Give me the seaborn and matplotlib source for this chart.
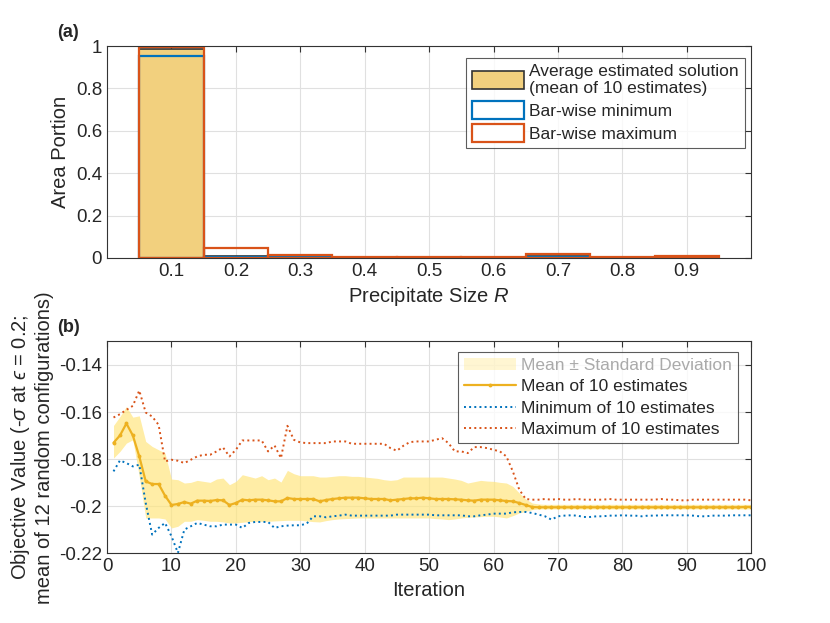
import numpy as np
import pandas as pd
import matplotlib
matplotlib.use('Agg')
import matplotlib.pyplot as plt
import seaborn as sns
from matplotlib.patches import Patch
from matplotlib.lines import Line2D

# ---- dados painel (a) ----
R = [0.1, 0.2, 0.3, 0.4, 0.5, 0.6, 0.7, 0.8, 0.9]
bar_mean = [0.985, 0.008, 0.006, 0.002, 0.001, 0.001, 0.010, 0.001, 0.004]
bar_min = [0.955, 0.004, 0.002, 0.000, 0.000, 0.000, 0.006, 0.000, 0.001]
bar_max = [0.995, 0.047, 0.012, 0.005, 0.003, 0.003, 0.019, 0.003, 0.008]

# ---- dados painel (b) (pixels y lidos no zoom, convertidos abaixo) ----
iters = list(range(1, 101))
mean_px = [519, 497, 461, 497, 560, 635, 643, 643, 678, 706,
           703, 697, 702, 693, 693, 694, 691, 692, 706, 700,
           690, 692, 690, 690, 692, 695, 695, 685, 688, 688,
           688, 688, 695, 691, 688, 686, 684, 684, 684, 686,
           688, 688, 688, 692, 690, 688, 686, 686, 684, 686,
           688, 688, 688, 689, 690, 692, 693, 690, 690, 690,
           692, 694, 695, 700, 706, 712, 713, 713, 713, 713,
           713, 713, 713, 713, 713, 713, 713, 713, 713, 713,
           713, 713, 713, 713, 713, 713, 713, 713, 713, 713,
           713, 713, 713, 713, 713, 713, 713, 713, 712, 712]
upper_px = [467, 440, 410, 442, 438, 515, 530, 540, 550, 628,
            630, 640, 638, 632, 635, 638, 628, 625, 645, 635,
            615, 620, 625, 618, 630, 625, 637, 602, 612, 618,
            618, 618, 622, 622, 620, 618, 618, 620, 620, 622,
            624, 626, 630, 632, 630, 622, 622, 622, 622, 622,
            622, 622, 625, 628, 632, 640, 636, 632, 634, 635,
            638, 640, 650, 670, 688, 700, 703, 704, 704, 704,
            704, 704, 704, 704, 704, 704, 704, 704, 704, 704,
            704, 704, 704, 704, 704, 704, 704, 704, 704, 704,
            704, 704, 704, 704, 704, 704, 704, 704, 704, 704]
lower_px = [565, 545, 520, 510, 620, 745, 745, 745, 748, 775,
            770, 755, 755, 750, 752, 755, 755, 757, 760, 760,
            758, 756, 755, 755, 755, 754, 753, 752, 752, 752,
            754, 756, 757, 753, 750, 748, 747, 746, 745, 745,
            745, 745, 745, 745, 745, 745, 745, 745, 745, 745,
            747, 748, 750, 748, 745, 743, 742, 741, 740, 740,
            742, 745, 738, 730, 725, 720, 718, 718, 718, 718,
            718, 718, 718, 718, 718, 718, 718, 718, 718, 718,
            718, 718, 718, 718, 718, 718, 718, 718, 718, 718,
            718, 718, 718, 718, 718, 718, 718, 718, 718, 718]
max_px = [443, 433, 420, 408, 362, 428, 440, 465, 575, 570,
          573, 580, 570, 560, 555, 555, 545, 533, 560, 540,
          512, 512, 512, 512, 545, 527, 565, 468, 510, 518,
          520, 520, 520, 520, 515, 515, 515, 522, 522, 522,
          522, 522, 522, 535, 543, 528, 517, 515, 515, 515,
          510, 505, 520, 545, 545, 550, 532, 532, 535, 540,
          545, 560, 605, 660, 688, 690, 690, 688, 690, 688,
          690, 690, 688, 690, 690, 690, 690, 688, 690, 690,
          690, 690, 690, 690, 690, 688, 690, 690, 692, 692,
          690, 690, 690, 690, 690, 690, 690, 690, 690, 692]
min_px = [605, 572, 580, 590, 585, 700, 795, 775, 760, 800,
          850, 780, 770, 760, 765, 770, 770, 765, 765, 765,
          775, 760, 757, 757, 757, 775, 770, 768, 767, 767,
          762, 740, 740, 743, 740, 738, 735, 738, 738, 738,
          738, 738, 738, 738, 735, 735, 735, 735, 735, 735,
          737, 737, 737, 737, 737, 740, 740, 737, 735, 732,
          732, 732, 728, 727, 727, 730, 735, 740, 750, 740,
          738, 737, 738, 742, 742, 740, 740, 738, 738, 737,
          738, 738, 740, 738, 738, 737, 737, 737, 737, 737,
          738, 740, 740, 738, 738, 738, 737, 737, 737, 737]


def px2val(px):
    return -0.14 - (np.array(px) - 285) * 0.02 / 141.5


obj_mean = px2val(mean_px)
obj_upper = px2val(upper_px)
obj_lower = px2val(lower_px)
obj_max = px2val(max_px)
obj_min = px2val(min_px)

blue = '#0072BD'
red = '#D95319'
gold = '#EDB120'
fill_bar = '#F2D07E'

sns.set_style('white')
plt.rcParams['font.family'] = ['Liberation Sans', 'DejaVu Sans']
plt.rcParams['mathtext.fontset'] = 'custom'
plt.rcParams['mathtext.it'] = 'Liberation Sans:italic'
plt.rcParams['mathtext.rm'] = 'Liberation Sans'

fig = plt.figure(figsize=(8.3, 6.23), dpi=100)
ax1 = fig.add_axes([0.129, 0.586, 0.776, 0.340])
ax2 = fig.add_axes([0.129, 0.112, 0.776, 0.340])

# ---- painel (a) ----
df_a = pd.DataFrame({'R': R, 'mean': bar_mean, 'min': bar_min, 'max': bar_max})
sns.barplot(data=df_a, x='R', y='mean', native_scale=True, width=1, errorbar=None,
            color=fill_bar, saturation=1, edgecolor='#333333', linewidth=1.2, ax=ax1)
sns.barplot(data=df_a, x='R', y='min', native_scale=True, width=1, errorbar=None,
            fill=False, color=blue, saturation=1, linewidth=1.6, ax=ax1)
sns.barplot(data=df_a, x='R', y='max', native_scale=True, width=1, errorbar=None,
            fill=False, color=red, saturation=1, linewidth=1.6, ax=ax1)
ax1.set_xlim(0, 1)
ax1.set_ylim(0, 1)
ax1.set_xticks(R)
ax1.set_xticklabels(['0.1', '0.2', '0.3', '0.4', '0.5', '0.6', '0.7', '0.8', '0.9'])
ax1.set_yticks([0, 0.2, 0.4, 0.6, 0.8, 1])
ax1.set_yticklabels(['0', '0.2', '0.4', '0.6', '0.8', '1'])
ax1.set_xlabel('Precipitate Size $\\it{R}$', fontsize=14.5)
ax1.set_ylabel('Area Portion', fontsize=14.5)
h_a = [Patch(facecolor=fill_bar, edgecolor='#333333', lw=1.2),
       Patch(facecolor='white', edgecolor=blue, lw=1.6),
       Patch(facecolor='white', edgecolor=red, lw=1.6)]
leg1 = ax1.legend(h_a, ['Average estimated solution\n(mean of 10 estimates)',
                        'Bar-wise minimum', 'Bar-wise maximum'],
                  loc='upper right', bbox_to_anchor=(0.99, 0.945), fontsize=12.5,
                  frameon=True, fancybox=False, edgecolor='#333333',
                  handlelength=3.0, handleheight=1.2, handletextpad=0.3,
                  labelspacing=0.3, borderpad=0.35, borderaxespad=0)
leg1.get_frame().set_linewidth(0.8)
ax1.text(-0.078, 1.045, '(a)', transform=ax1.transAxes, fontsize=13, fontweight='bold')

# ---- painel (b) ----
df_b = pd.DataFrame({'it': iters, 'mean': obj_mean, 'min': obj_min, 'max': obj_max})
ax2.fill_between(iters, obj_lower, obj_upper, color='#FFE680', alpha=0.7, lw=0)
sns.lineplot(data=df_b, x='it', y='mean', color=gold, lw=1.6, marker='o', markersize=2.8,
             markeredgewidth=0, ax=ax2)
sns.lineplot(data=df_b, x='it', y='min', color=blue, lw=1.4, linestyle=':', ax=ax2)
sns.lineplot(data=df_b, x='it', y='max', color=red, lw=1.4, linestyle=':', ax=ax2)
ax2.set_xlim(0, 100)
ax2.set_ylim(-0.22, -0.13)
ax2.set_xticks(range(0, 101, 10))
ax2.set_yticks([-0.22, -0.2, -0.18, -0.16, -0.14])
ax2.set_yticklabels(['-0.22', '-0.2', '-0.18', '-0.16', '-0.14'])
ax2.set_xlabel('Iteration', fontsize=14.5)
ax2.set_ylabel('Objective Value (-$\\sigma$ at $\u03f5$ = 0.2;\nmean of 12 random configurations)',
               fontsize=14.5)
h_b = [Patch(facecolor='#FFE680', alpha=0.35, lw=0),
       Line2D([], [], color=gold, lw=1.6, marker='o', markersize=2.8, markeredgewidth=0),
       Line2D([], [], color=blue, lw=1.4, linestyle=':'),
       Line2D([], [], color=red, lw=1.4, linestyle=':')]
leg2 = ax2.legend(h_b, ['Mean \u00b1 Standard Deviation', 'Mean of 10 estimates',
                        'Minimum of 10 estimates', 'Maximum of 10 estimates'],
                  loc='upper right', bbox_to_anchor=(0.98, 0.95), fontsize=12.5,
                  frameon=True, fancybox=False, edgecolor='#333333',
                  handlelength=3.0, handletextpad=0.3, labelspacing=0.35,
                  borderpad=0.35, borderaxespad=0)
leg2.get_frame().set_linewidth(0.8)
leg2.get_texts()[0].set_color('#AAAAAA')
ax2.text(-0.078, 1.045, '(b)', transform=ax2.transAxes, fontsize=13, fontweight='bold')

for ax in (ax1, ax2):
    ax.grid(True, color='#E0E0E0', lw=0.8)
    ax.set_axisbelow(True)
    ax.tick_params(direction='in', top=True, right=True, labelsize=13.5,
                   length=4, color='#333333', labelcolor='#262626')
    for s in ax.spines.values():
        s.set_color('#333333')
        s.set_linewidth(0.8)
        s.set_visible(True)

fig.savefig('out.png', dpi=100)
